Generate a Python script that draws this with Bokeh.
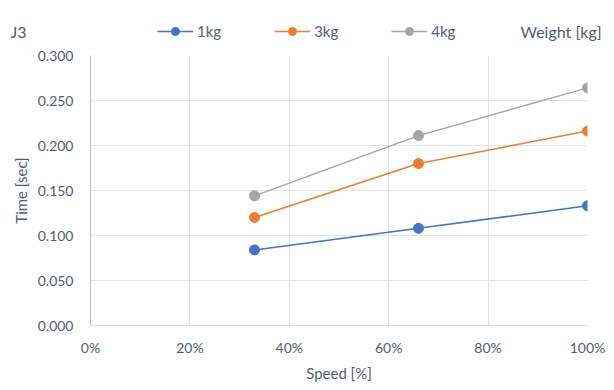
from bokeh.plotting import figure
from bokeh.layouts import column
from bokeh.models import (ColumnDataSource, Legend, LegendItem, LinearAxis, NumeralTickFormatter,
                          FixedTicker, Range1d)
from bokeh.embed import file_html
from bokeh.resources import INLINE

speed = [0.33, 0.66, 1.00]
t_1kg = [0.084, 0.108, 0.133]
t_3kg = [0.120, 0.180, 0.216]
t_4kg = [0.144, 0.211, 0.264]
series_names = ["1kg", "3kg", "4kg"]
x_ticks = [0, 0.2, 0.4, 0.6, 0.8, 1.0]
y_ticks = [0, 0.05, 0.10, 0.15, 0.20, 0.25, 0.30]

colors = ["#4472C4", "#ED7D31", "#A5A5A5"]
TXT = "#535D6F"
FONT = "Lato"


def header_axis(ax, text, standoff):
    ax.ticker = FixedTicker(ticks=[])
    ax.axis_line_color = None
    ax.major_tick_out = 0
    ax.major_tick_in = 0
    ax.minor_tick_line_color = None
    ax.major_label_standoff = 0
    ax.axis_label = text
    ax.axis_label_orientation = "horizontal"
    ax.axis_label_standoff = standoff
    ax.axis_label_text_font = FONT
    ax.axis_label_text_font_size = "16px"
    ax.axis_label_text_font_style = "normal"
    ax.axis_label_text_color = TXT


# header strip (chart title, legend, legend caption)
top = figure(width=614, height=45, output_backend="svg", toolbar_location=None,
             x_range=Range1d(0, 1), y_range=Range1d(10, 11),
             x_axis_location=None, y_axis_location="left",
             min_border_top=17, min_border_bottom=0, min_border_left=90, min_border_right=27)
top.outline_line_color = None
top.grid.visible = False
header_axis(top.yaxis[0], "J3", 64)
right_ax = LinearAxis()
header_axis(right_ax, "Weight [kg]", -67)
top.add_layout(right_ax, "right")

# main chart
p = figure(width=614, height=345, output_backend="svg", toolbar_location=None,
           x_range=Range1d(0, 1), y_range=Range1d(0, 0.3),
           min_border_left=90, min_border_right=27, min_border_top=10, min_border_bottom=65)
p.outline_line_color = None

items = []
for name, vals, c in zip(series_names, [t_1kg, t_3kg, t_4kg], colors):
    src = ColumnDataSource(dict(x=speed, y=vals))
    p.line("x", "y", source=src, line_color=c, line_width=1.5)
    p.scatter("x", "y", source=src, size=10, fill_color=c, line_color=c)
    # proxies in header strip (outside its visible range) used by the legend
    l = top.line("x", "y", source=src, line_color=c, line_width=1.5)
    s = top.scatter("x", "y", source=src, size=10, fill_color=c, line_color=c)
    items.append(LegendItem(label=name, renderers=[l, s]))

legend = Legend(items=items, orientation="horizontal", location=(67, 4),
                border_line_color=None, background_fill_alpha=0, padding=0, margin=0,
                glyph_width=36, glyph_height=20, label_standoff=4, spacing=53,
                label_text_font=FONT, label_text_font_size="15px", label_text_color=TXT,
                label_width=23)
top.add_layout(legend, "center")

p.xaxis.ticker = FixedTicker(ticks=x_ticks)
p.yaxis.ticker = FixedTicker(ticks=y_ticks)
p.xaxis.formatter = NumeralTickFormatter(format="0%")
p.yaxis.formatter = NumeralTickFormatter(format="0.000")
p.xaxis.axis_label = "Speed [%]"
p.yaxis.axis_label = "Time [sec]"

for ax in (p.xaxis, p.yaxis):
    ax.major_tick_line_color = None
    ax.minor_tick_line_color = None
    ax.major_label_text_font = FONT
    ax.major_label_text_font_size = "14px"
    ax.major_label_text_color = TXT
    ax.axis_label_text_font = FONT
    ax.axis_label_text_font_size = "15px"
    ax.axis_label_text_color = TXT
    ax.axis_label_text_font_style = "normal"
p.xaxis.axis_line_color = "#D9DEE6"
p.yaxis.axis_line_color = "#B4BFCF"
p.xaxis.major_label_standoff = 7
p.yaxis.major_label_standoff = 11
p.xaxis.axis_label_standoff = 5
p.yaxis.axis_label_standoff = 5

p.grid.grid_line_color = "#DFE3EA"
p.grid.grid_line_width = 1

layout = column(top, p, spacing=0)
open("out.html", "w").write(file_html(layout, INLINE))
